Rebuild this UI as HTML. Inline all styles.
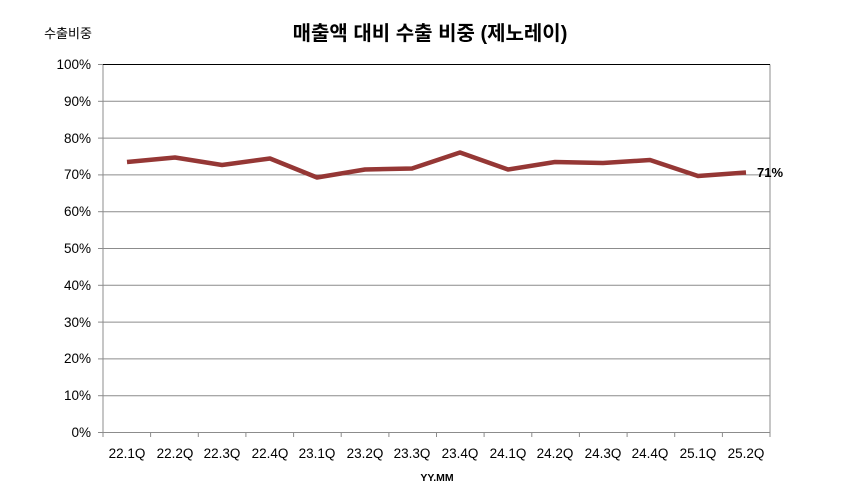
<!DOCTYPE html>
<html><head><meta charset="utf-8"><style>
html,body{margin:0;padding:0;background:#fff;}
svg{display:block;}
text{font-family:"Liberation Sans","Noto Sans CJK KR",sans-serif;fill:#000;}
</style></head><body>
<svg width="861" height="499" viewBox="0 0 861 499" xmlns="http://www.w3.org/2000/svg">
<rect width="861" height="499" fill="#fff"/>
<text x="430" y="40" font-size="20" font-weight="bold" text-anchor="middle">매출액 대비 수출 비중 (제노레이)</text>
<text x="68" y="38" font-size="13" text-anchor="middle">수출비중</text>
<g stroke="#8c8c8c" stroke-width="1">
<line x1="103" y1="101.3" x2="770" y2="101.3"/>
<line x1="103" y1="138.1" x2="770" y2="138.1"/>
<line x1="103" y1="174.9" x2="770" y2="174.9"/>
<line x1="103" y1="211.7" x2="770" y2="211.7"/>
<line x1="103" y1="248.5" x2="770" y2="248.5"/>
<line x1="103" y1="285.3" x2="770" y2="285.3"/>
<line x1="103" y1="322.1" x2="770" y2="322.1"/>
<line x1="103" y1="358.9" x2="770" y2="358.9"/>
<line x1="103" y1="395.7" x2="770" y2="395.7"/>
<line x1="770" y1="64.5" x2="770" y2="432.5"/>
<line x1="103" y1="64.5" x2="103" y2="437"/>
<line x1="98" y1="432.5" x2="770" y2="432.5"/>
</g>
<line x1="103" y1="64.5" x2="770" y2="64.5" stroke="#000" stroke-width="1"/>
<g stroke="#8c8c8c">
<line x1="98" y1="64.5" x2="103" y2="64.5"/><line x1="98" y1="101.3" x2="103" y2="101.3"/><line x1="98" y1="138.1" x2="103" y2="138.1"/><line x1="98" y1="174.9" x2="103" y2="174.9"/><line x1="98" y1="211.7" x2="103" y2="211.7"/><line x1="98" y1="248.5" x2="103" y2="248.5"/><line x1="98" y1="285.3" x2="103" y2="285.3"/><line x1="98" y1="322.1" x2="103" y2="322.1"/><line x1="98" y1="358.9" x2="103" y2="358.9"/><line x1="98" y1="395.7" x2="103" y2="395.7"/>
<line x1="150.6" y1="432" x2="150.6" y2="437"/><line x1="198.3" y1="432" x2="198.3" y2="437"/><line x1="245.9" y1="432" x2="245.9" y2="437"/><line x1="293.6" y1="432" x2="293.6" y2="437"/><line x1="341.2" y1="432" x2="341.2" y2="437"/><line x1="388.9" y1="432" x2="388.9" y2="437"/><line x1="436.5" y1="432" x2="436.5" y2="437"/><line x1="484.1" y1="432" x2="484.1" y2="437"/><line x1="531.8" y1="432" x2="531.8" y2="437"/><line x1="579.4" y1="432" x2="579.4" y2="437"/><line x1="627.1" y1="432" x2="627.1" y2="437"/><line x1="674.7" y1="432" x2="674.7" y2="437"/><line x1="722.4" y1="432" x2="722.4" y2="437"/><line x1="770" y1="432" x2="770" y2="437"/>
</g>
<g font-size="13.5" text-anchor="end">
<text x="91" y="69">100%</text><text x="91" y="106">90%</text><text x="91" y="143">80%</text><text x="91" y="179">70%</text><text x="91" y="216">60%</text><text x="91" y="253">50%</text><text x="91" y="290">40%</text><text x="91" y="327">30%</text><text x="91" y="363">20%</text><text x="91" y="400">10%</text><text x="91" y="437">0%</text>
</g>
<g font-size="13.5" text-anchor="middle">
<text x="127" y="458">22.1Q</text><text x="175" y="458">22.2Q</text><text x="222" y="458">22.3Q</text><text x="270" y="458">22.4Q</text><text x="317" y="458">23.1Q</text><text x="365" y="458">23.2Q</text><text x="412" y="458">23.3Q</text><text x="460" y="458">23.4Q</text><text x="508" y="458">24.1Q</text><text x="555" y="458">24.2Q</text><text x="603" y="458">24.3Q</text><text x="650" y="458">24.4Q</text><text x="698" y="458">25.1Q</text><text x="746" y="458">25.2Q</text>
</g>
<text x="437" y="481" font-size="10.5" font-weight="bold" text-anchor="middle">YY.MM</text>
<polyline fill="none" stroke="#953735" stroke-width="4.5" stroke-linejoin="round" points="127,162 175,157.5 222,165 270,158.5 317,177.5 365,169.5 412,168.5 460,152.5 508,169.5 555,162 603,163 650,160 698,176 746,172.5"/>
<text x="757" y="177" font-size="13" font-weight="bold">71%</text>
</svg>
</body></html>
